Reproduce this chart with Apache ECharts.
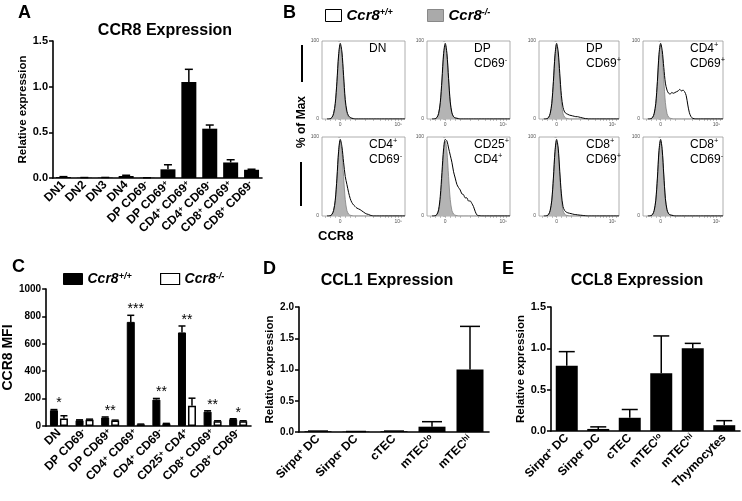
<!DOCTYPE html>
<html><head><meta charset="utf-8">
<script src="https://cdn.jsdelivr.net/npm/echarts@6/dist/echarts.min.js"></script>
<style>html,body{margin:0;padding:0;background:#fff}#c{width:742px;height:501px}</style>
</head><body><div id="c"></div>
<script>
// ---------- DATA ----------
// Panel A : CCR8 expression
const aCats = ['DN1','DN2','DN3','DN4','DP CD69^-','DP CD69^+','CD4^+ CD69^+','CD4^+ CD69^-','CD8^+ CD69^+','CD8^+ CD69^-'];
const aVal  = [0.01, 0.003, 0.004, 0.022, 0.002, 0.095, 1.05, 0.54, 0.17, 0.09];
const aErr  = [0.005, 0.002, 0.002, 0.008, 0.001, 0.05, 0.14, 0.04, 0.03, 0.006];
const aTicks = ['0.0','0.5','1.0','1.5'];

// Panel B : histograms (x in display units, y = % of max)
const bPanels = ['DN','DP\nCD69^-','DP\nCD69^+','CD4^+\nCD69^+','CD4^+\nCD69^-','CD25^+\nCD4^+','CD8^+\nCD69^+','CD8^+\nCD69^-'];
const histX   = [-16,-14,-12,-10,-8,-6,-4,-2,0,2,4,6,8,10,12,14,16,18,20,22,24,26,28,30,32,34,36,38,40,44,50,78];
const koHist  = [0,0,0.5,2,7,20,47,80,95,82,50,21,7,2.5,1,0.5,0,0,0,0,0,0,0,0,0,0,0,0,0,0,0,0];
const dnWT    = [0,0,0.5,2,7,20,48,82,97,86,56,25,10,4,2,1,0.5,0,0,0,0,0,0,0,0,0,0,0,0,0,0,0];
const dpmWT   = [0,0,0.5,2,7,21,50,84,97,84,52,22,8,3,1.5,1,0.5,0,0,0,0,0,0,0,0,0,0,0,0,0,0,0];
const dppWT   = [0,0,0.5,2,7,20,48,82,97,86,58,30,15,9,7,6,5,4.5,4,3.5,3,3,2.5,2,1.5,1,0.5,0.3,0,0,0,0];
const cd4ppWT = [0,0,0.5,2,7,20,48,83,97,88,66,46,37,33,32,34,33,34,35,36,38,36,37,35,30,18,8,3,1,0,0,0];
const cd4pmWT = [0,0,0.5,2,7,20,48,82,97,88,68,50,40,30,22,17,14,12,10,9,8,6.5,5,3.5,2.5,2,1,0.5,0,0,0,0];
const cd25WT  = [0,0,0.5,2,8,25,55,85,97,95,86,77,68,56,48,40,36,33,28,27,23,23,19,19,16,12,6,1.5,0.5,0,0,0];
const cd8ppWT = [0,0,0.5,2,7,20,48,82,97,86,56,28,12,7,5,4,3.5,3,2.5,2,1.8,1.5,1.2,1,0.8,0.5,0.3,0,0,0,0,0];
const cd8pmWT = [0,0,0.5,2,7,20,48,83,97,84,52,22,8,3,1.5,1,0.5,0,0,0,0,0,0,0,0,0,0,0,0,0,0,0];
const bWTList = [dnWT, dpmWT, dppWT, cd4ppWT, cd4pmWT, cd25WT, cd8ppWT, cd8pmWT];

// Panel C : CCR8 MFI
const cCats  = ['DN','DP CD69^-','DP CD69^+','CD4^+ CD69^+','CD4^+ CD69^-','CD25^+ CD4^+','CD8^+ CD69^+','CD8^+ CD69^-'];
const cWT    = [115, 42, 62, 760, 193, 683, 105, 50];
const cWTErr = [5, 3, 4, 48, 8, 47, 6, 3];
const cKO    = [55, 46, 40, 12, 17, 148, 35, 35];
const cKOErr = [20, 4, 3, 2, 2, 55, 3, 3];
const cStars = ['*','','**','***','**','**','**','*'];

// Panel D : CCL1
const dCats = ['Sirpα^+ DC','Sirpα^- DC','cTEC','mTEC^lo','mTEC^hi'];
const dVal  = [0.012, 0.006, 0.012, 0.085, 1.0];
const dErr  = [0.003, 0.002, 0.003, 0.08, 0.69];

// Panel E : CCL8
const eCats = ['Sirpα^+ DC','Sirpα^- DC','cTEC','mTEC^lo','mTEC^hi','Thymocytes'];
const eVal  = [0.79, 0.025, 0.16, 0.70, 1.0, 0.07];
const eErr  = [0.17, 0.025, 0.10, 0.45, 0.06, 0.055];

// ---------- BUILD ----------
const FF = '"Liberation Sans", Arial, Helvetica, sans-serif';
const sup = s => s.replace(/\^(\S+)/g, '{s|$1}');
const legendNames = {bWT:'Ccr8{s|+/+}', bKO:'Ccr8{s|-/-}', cWT:'Ccr8{s|+/+}', cKO:'Ccr8{s|-/-}'};

const grids = [], xAxes = [], yAxes = [], series = [];

function barPanel(grid, cats, yMax, yName, nameGap, tickFS) {
  const gi = grids.length;
  grids.push(Object.assign({containLabel:false}, grid));
  xAxes.push({
    type:'category', gridIndex:gi, data:cats,
    axisLine:{lineStyle:{color:'#000', width:1.6}},
    axisTick:{alignWithLabel:true, length:4, lineStyle:{color:'#000', width:1.5}},
    axisLabel:{rotate:45, interval:0, margin:5, color:'#000', fontFamily:FF, fontWeight:'bold', fontSize:12,
      formatter:v => sup(v), rich:{s:{fontSize:8, fontFamily:FF, fontWeight:'bold', verticalAlign:'top', color:'#000'}}}
  });
  yAxes.push({
    type:'value', gridIndex:gi, min:0, max:yMax, interval: yMax >= 100 ? 200 : 0.5,
    name:yName, nameLocation:'middle', nameRotate:90, nameGap:nameGap,
    nameTextStyle:{fontFamily:FF, fontWeight:'bold', fontSize: yMax>=100 ? 14 : 11.5, color:'#000'},
    splitLine:{show:false},
    axisLine:{show:true, lineStyle:{color:'#000', width:1.6}},
    axisTick:{show:true, length:4, lineStyle:{color:'#000', width:1.5}},
    axisLabel:{margin:5, color:'#000', fontFamily:FF, fontWeight:'bold', fontSize:tickFS,
      formatter:v => yMax >= 100 ? String(v) : v.toFixed(1)}
  });
  return gi;
}

function errRender(offset, capW) {
  return function(params, api) {
    const i = api.value(0), v = api.value(1), e = api.value(2);
    const p0 = api.coord([i, v]), p1 = api.coord([i, v + e]);
    const x = p0[0] + offset;
    return {type:'group', children:[
      {type:'line', shape:{x1:x, y1:p0[1], x2:x, y2:p1[1]}, style:{stroke:'#000', lineWidth:1.5}},
      {type:'line', shape:{x1:x-capW/2, y1:p1[1], x2:x+capW/2, y2:p1[1]}, style:{stroke:'#000', lineWidth:1.5}}
    ]};
  };
}
function errSeries(gi, vals, errs, offset, capW) {
  series.push({type:'custom', xAxisIndex:gi, yAxisIndex:gi, z:5, silent:true,
    renderItem: errRender(offset, capW), encode:{x:0, y:1},
    data: vals.map((v,i) => [i, v, errs[i]])});
}

// Panel A
let gA = barPanel({left:53, top:41, width:209, height:137}, aCats, 1.5, 'Relative expression', 20, 11);
series.push({type:'bar', xAxisIndex:gA, yAxisIndex:gA, data:aVal, barWidth:15, itemStyle:{color:'#000'}, silent:true});
errSeries(gA, aVal, aErr, 0, 8);

// Panel B
const bCols = [[322,83],[427,83],[539,80],[643,80]];
const bRows = [[41,78],[137,79]];
const bGraphic = [];
bPanels.forEach((lab, k) => {
  const col = bCols[k % 4], row = bRows[Math.floor(k / 4)];
  const gi = grids.length;
  grids.push({left:col[0], top:row[0], width:col[1], height:row[1], show:true, borderColor:'#9a9a9a', borderWidth:0.8});
  xAxes.push({type:'value', gridIndex:gi, min:-22, max:78,
    axisLine:{show:false}, splitLine:{show:false},
    axisTick:{show:true, customValues:[-18,-12,-6,0,6,12,18,30,40,48,54,58,62,66,70,74], length:2, lineStyle:{color:'#999', width:0.6}},
    axisLabel:{customValues:[0,70], formatter:v => v === 0 ? '0' : '10⁵', fontSize:5, color:'#555', margin:3, fontFamily:FF}});
  yAxes.push({type:'value', gridIndex:gi, min:0, max:100, interval:100,
    axisLine:{show:false}, splitLine:{show:false},
    axisTick:{show:true, customValues:[0,20,40,60,80,100], length:2, lineStyle:{color:'#999', width:0.6}},
    axisLabel:{fontSize:5, color:'#555', margin:3, fontFamily:FF}});
  series.push({name:'bKO', type:'line', xAxisIndex:gi, yAxisIndex:gi, smooth:0.3, showSymbol:false, silent:true,
    data: histX.map((x,j) => [x, koHist[j]]),
    lineStyle:{color:'#808080', width:0.8}, itemStyle:{color:'#aaaaaa'}, areaStyle:{color:'#b4b4b4', opacity:1}});
  series.push({name:'bWT', type:'line', xAxisIndex:gi, yAxisIndex:gi, smooth:0.3, showSymbol:false, silent:true, z:3,
    data: histX.map((x,j) => [x, bWTList[k][j]]),
    lineStyle:{color:'#000', width:1}, itemStyle:{color:'#000'}});
  bGraphic.push({type:'text', x:col[0] + 47, y:row[0] + 0,
    style:{text:sup(lab), font:'12px ' + FF, fill:'#000', lineHeight:15, align:'left', verticalAlign:'top',
      textAlign:'left', textVerticalAlign:'top', rich:{s:{fontSize:7.5, fontFamily:FF, verticalAlign:'top', lineHeight:15, fill:'#000'}}}});
});

// Panel C
let gC = barPanel({left:45, top:289, width:206, height:137}, cCats, 1000, 'CCR8 MFI', 25, 10);
series.push({name:'cWT', type:'bar', xAxisIndex:gC, yAxisIndex:gC, data:cWT, barWidth:8, barGap:'25%', silent:true,
  itemStyle:{color:'#000', borderColor:'#000', borderWidth:1}});
series.push({name:'cKO', type:'bar', xAxisIndex:gC, yAxisIndex:gC, data:cKO, barWidth:8, barGap:'25%', silent:true,
  itemStyle:{color:'#fff', borderColor:'#000', borderWidth:1.5}});
errSeries(gC, cWT, cWTErr, -5, 7);
errSeries(gC, cKO, cKOErr, 5, 7);
series.push({type:'custom', xAxisIndex:gC, yAxisIndex:gC, z:6, silent:true, encode:{x:0, y:1},
  data: cWT.map((v,i) => [i, Math.max(v + cWTErr[i], cKO[i] + cKOErr[i])]),
  renderItem: function(params, api) {
    const t = cStars[params.dataIndex];
    if (!t) return null;
    const p = api.coord([api.value(0), api.value(1)]);
    return {type:'text', x:p[0], y:p[1] - 6,
      style:{text:t, font:'14px ' + FF, fill:'#000', align:'center', verticalAlign:'middle', textAlign:'center', textVerticalAlign:'middle'}};
  }});

// Panel D
let gD = barPanel({left:299, top:307, width:190, height:125}, dCats, 2.0, 'Relative expression', 22, 10);
series.push({type:'bar', xAxisIndex:gD, yAxisIndex:gD, data:dVal, barWidth:27, itemStyle:{color:'#000'}, silent:true});
errSeries(gD, dVal, dErr, 0, 20);

// Panel E
let gE = barPanel({left:551, top:307, width:189, height:124}, eCats, 1.5, 'Relative expression', 19, 11);
series.push({type:'bar', xAxisIndex:gE, yAxisIndex:gE, data:eVal, barWidth:22, itemStyle:{color:'#000'}, silent:true});
errSeries(gE, eVal, eErr, 0, 16);

// ---------- TEXT ----------
function T(x, y, text, font, align, extra) {
  return {type:'text', x:x, y:y, silent:true, style:Object.assign({text:text, font:font, fill:'#000',
    align:align||'left', verticalAlign:'middle', textAlign:align||'left', textVerticalAlign:'middle'}, extra||{})};
}
const graphic = [
  T(18, 13, 'A', 'bold 18px ' + FF),
  T(283, 13, 'B', 'bold 18px ' + FF),
  T(12, 267, 'C', 'bold 18px ' + FF),
  T(263, 269, 'D', 'bold 18px ' + FF),
  T(502, 269, 'E', 'bold 18px ' + FF),
  T(165, 31, 'CCR8 Expression', 'bold 16px ' + FF, 'center'),
  T(387, 281, 'CCL1 Expression', 'bold 16px ' + FF, 'center'),
  T(637, 281, 'CCL8 Expression', 'bold 16px ' + FF, 'center'),
  T(318, 236, 'CCR8', 'bold 13px ' + FF),
  Object.assign(T(302, 122, '% of Max', 'bold 12px ' + FF, 'center'), {rotation: Math.PI / 2}),
  {type:'line', silent:true, shape:{x1:302, y1:45, x2:302, y2:82}, style:{stroke:'#000', lineWidth:2}},
  {type:'line', silent:true, shape:{x1:301, y1:162, x2:301, y2:206}, style:{stroke:'#000', lineWidth:2}}
].concat(bGraphic);

// ---------- LEGENDS ----------
function leg(name, left, top, w, h, fs, itemStyle) {
  return {data:[itemStyle ? {name:name, itemStyle:itemStyle} : {name:name}], left:left, top:top, padding:0,
    itemWidth:w, itemHeight:h, icon:'rect', selectedMode:false, itemGap:0,
    formatter: n => legendNames[n],
    textStyle:{fontFamily:FF, fontSize:fs, fontWeight:'bold', fontStyle:'italic', color:'#000',
      rich:{s:{fontFamily:FF, fontSize:Math.round(fs*0.62), fontWeight:'bold', fontStyle:'italic', verticalAlign:'top', color:'#000'}}}};
}
const legends = [
  leg('bWT', 325, 8, 16, 12, 15, {color:'#fff', borderColor:'#000', borderWidth:1}),
  leg('bKO', 427, 8, 16, 12, 15, {color:'#aaaaaa', borderColor:'#888', borderWidth:1}),
  leg('cWT', 63, 272, 19, 11, 14, {color:'#000', borderColor:'#000', borderWidth:1}),
  leg('cKO', 160, 272, 19, 11, 14, {color:'#fff', borderColor:'#000', borderWidth:1.2})
];

const chart = echarts.init(document.getElementById('c'), null, {renderer:'canvas'});
chart.setOption({
  animation:false, backgroundColor:'#fff',
  grid:grids, xAxis:xAxes, yAxis:yAxes, series:series, legend:legends, graphic:graphic
});
</script></body></html>
